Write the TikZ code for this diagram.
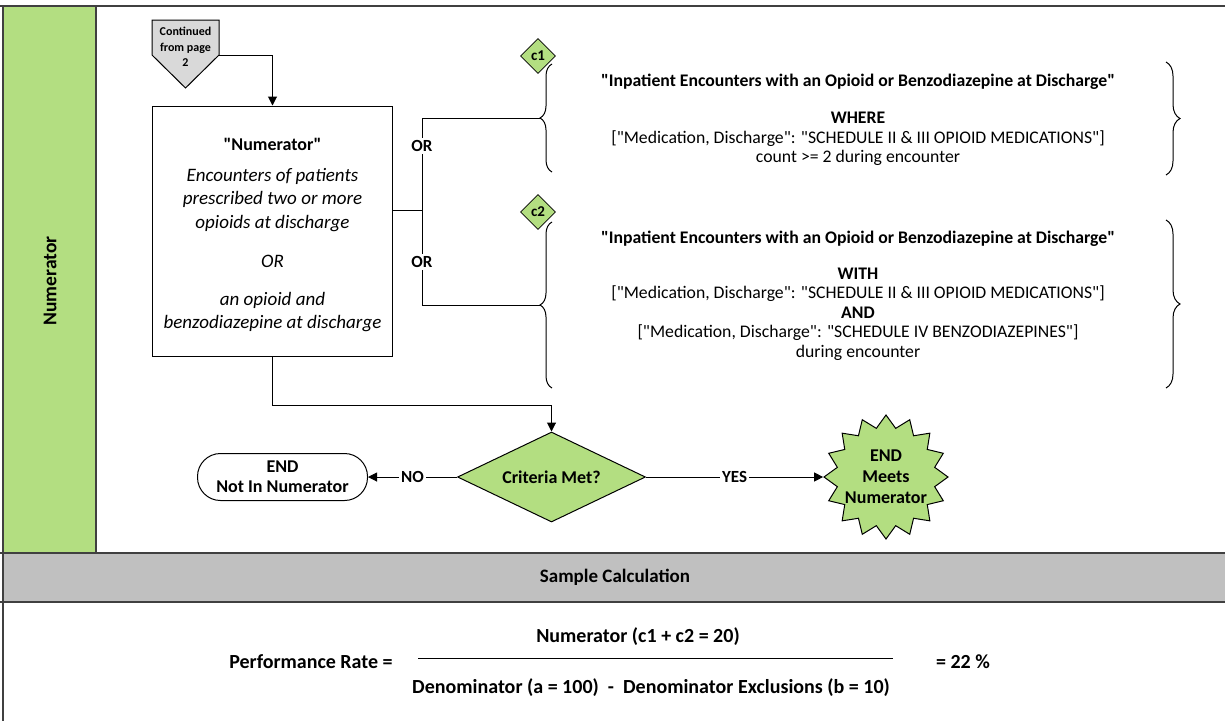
\documentclass[tikz,border=0pt]{standalone}
\usepackage{fontspec}
\setmainfont{Carlito}[Ligatures=TeXOff]
\usepackage{tikz}
\usetikzlibrary{shapes.geometric, arrows.meta, positioning, calc, decorations.pathreplacing}
\definecolor{lanegreen}{RGB}{179, 222, 129}
\definecolor{bandgray}{RGB}{192, 192, 192}
\definecolor{pagegray}{RGB}{217, 217, 217}
\definecolor{framegray}{RGB}{64, 64, 64}
\tikzset{
  processblock/.style={
    rectangle, draw, line width=1pt, fill=white,
    minimum width=240pt, minimum height=250pt, align=center,
    font=\itshape\fontsize{19}{23.5}\selectfont
  },
  critblock/.style={
    diamond, aspect=2.08, draw, line width=1pt, fill=lanegreen, inner sep=0pt,
    minimum width=188pt, minimum height=90pt,
    font=\bfseries\fontsize{18}{20}\selectfont
  },
  tagblock/.style={
    diamond, draw, line width=0.8pt, fill=lanegreen, inner sep=0pt,
    minimum size=35pt, font=\bfseries\fontsize{15}{16}\selectfont
  },
  endblock/.style={
    rectangle, rounded corners=23pt, draw, line width=1pt, fill=white,
    minimum width=170pt, minimum height=47pt, align=center,
    font=\bfseries\fontsize{18}{20}\selectfont
  },
  burstblock/.style={
    star, star points=16, star point ratio=1.25, draw, line width=1pt,
    fill=lanegreen, minimum size=124pt, inner sep=0pt
  },
  bursttext/.style={align=center, font=\bfseries\fontsize{18}{21}\selectfont},
  pagetext/.style={
    minimum width=67pt, inner sep=0pt, align=center,
    font=\bfseries\fontsize{12}{15.5}\selectfont
  },
  ruletext/.style={align=center, font=\fontsize{17.7}{19.6}\selectfont},
  calctext/.style={font=\bfseries\fontsize{20}{22}\selectfont},
  oplabel/.style={fill=white, inner sep=2pt, font=\bfseries\fontsize{17}{18}\selectfont},
  flowline/.style={draw, -{Triangle[length=9pt, width=9pt]}, line width=1pt},
  plainline/.style={draw, line width=1pt},
  bracket/.style={draw, line width=1pt, decorate, decoration={brace, amplitude=12pt}},
  framerule/.style={draw=framegray, line width=1.5pt}
}

\begin{document}
\begin{tikzpicture}[x=1pt, y=-1pt]
  \useasboundingbox (0,0) rectangle (1225,721);

  % lane and frame
  \fill[lanegreen] (3,6) rectangle (96,553);
  \fill[bandgray] (3,553) rectangle (1225,602);
  \draw[framerule] (96,6) -- (96,553);
  \draw[framerule] (0,6) -- (1225,6);
  \draw[framerule] (0,553) -- (1225,553);
  \draw[framerule] (0,602) -- (1225,602);
  \draw[framerule] (3,6) -- (3,721);
  \node[rotate=90, font=\bfseries\fontsize{19.5}{20}\selectfont] (lanetitle) at (50,281) {Numerator};

  % off-page connector
  \filldraw[fill=pagegray, line width=1pt] (152,20) -- (219,20) -- (219,55) -- (185.5,88) -- (152,55) -- cycle;
  \node[pagetext] (cont) at (185.5,47) {Continued\\from page\\2};

  \node[processblock] (num) at (272.5,231) {{\upshape\bfseries\fontsize{18}{20}\selectfont\rule{0pt}{21pt}"Numerator"}\\[7pt]
    Encounters of patients\\prescribed two or more\\opioids at discharge\\[16pt]
    OR\\[14pt]
    an opioid and\\benzodiazepine at discharge};

  % criteria braces
  \draw[bracket] (552,172) -- (552,64);
  \draw[bracket] (552,388) -- (552,222);
  \draw[bracket, decoration={amplitude=14pt}] (1166,62) -- (1166,175);
  \draw[bracket, decoration={amplitude=14pt}] (1166,220) -- (1166,388);
  \node[tagblock] (tag1) at (538,56) {c1};
  \node[tagblock] (tag2) at (538,212) {c2};

  \node[ruletext] (rule1) at (858,120) {\textbf{"Inpatient Encounters with an Opioid or Benzodiazepine at Discharge"}\\[17pt]
    \textbf{WHERE}\\
    {[}"Medication, Discharge": "SCHEDULE II \& III OPIOID MEDICATIONS"]\\
    count >= 2 during encounter};
  \node[ruletext] (rule2) at (858,296) {\textbf{"Inpatient Encounters with an Opioid or Benzodiazepine at Discharge"}\\[15.5pt]
    \textbf{WITH}\\
    {[}"Medication, Discharge": "SCHEDULE II \& III OPIOID MEDICATIONS"]\\
    \textbf{AND}\\
    {[}"Medication, Discharge": "SCHEDULE IV BENZODIAZEPINES"]\\
    during encounter};

  \coordinate (orjoin) at (422,210);
  \coordinate (c1tip) at (540,118);
  \coordinate (c2tip) at (540,305);
  \draw[plainline] (num.east |- orjoin) -- (orjoin);
  \draw[plainline] (orjoin) |- (c1tip);
  \draw[plainline] (orjoin) |- (c2tip);
  \node[oplabel] (or1) at (422,146) {OR};
  \node[oplabel] (or2) at (422,262) {OR};

  % decision
  \node[critblock] (crit) at (551.5,477) {Criteria Met?};
  \node[endblock] (notin) at (282.5,477) {END\\Not In Numerator};
  \node[burstblock] (meets) at (886,477) {};
  \node[bursttext] (meetstext) at (meets) {END\\Meets\\Numerator};

  \draw[flowline] (cont.east |- 0,55) -| (num.north);
  \draw[flowline] (num.south) -- ++(0,49) -| (crit.north);
  \draw[flowline] (crit.west) -- node[oplabel] {NO} (notin.east);
  \draw[flowline] (crit.east) -- node[oplabel] {YES} (meets.west);

  % sample calculation
  \node[font=\bfseries\fontsize{19}{20}\selectfont] (sample) at (615,577) {Sample Calculation};
  \node[calctext] (rate) at (311,662) {Performance Rate =};
  \node[calctext] (numtxt) at (638,637) {Numerator (c1 + c2 = 20)};
  \node[calctext] (dentxt) at (651,688) {Denominator (a = 100)\ \ -\ \ Denominator Exclusions (b = 10)};
  \node[calctext] (result) at (963,662) {= 22 \%};
  \draw[line width=0.8pt] (418,658) -- (893,658);
\end{tikzpicture}
\end{document}
